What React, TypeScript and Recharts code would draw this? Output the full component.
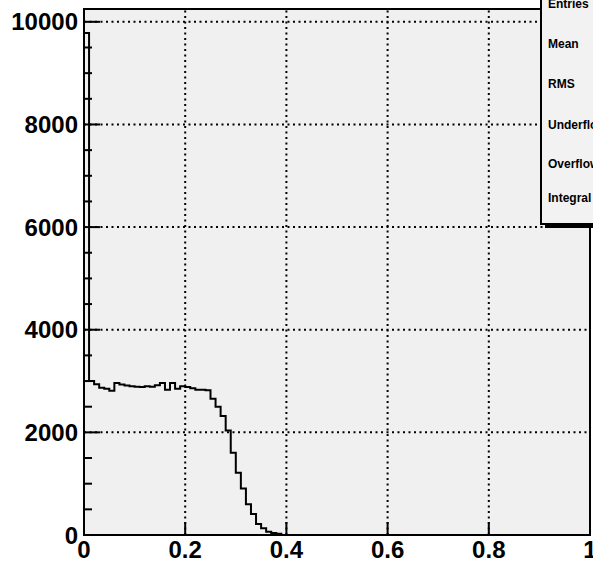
import React from "react"
import { ComposedChart, Line, XAxis, YAxis, ReferenceArea, ReferenceLine } from "recharts"

// bin contents, 100 bins of width 0.01 from 0 to 1
const counts = [
  9780, 3000, 2940, 2870, 2850, 2810, 2960, 2935, 2915, 2900,
  2890, 2885, 2900, 2890, 2920, 2960, 2830, 2960, 2850, 2900,
  2885, 2860, 2830, 2830, 2820, 2655, 2500, 2320, 2035, 1605,
  1215, 905, 600, 410, 215, 130, 65, 40, 25, 0,
  0, 0, 0, 0, 0, 0, 0, 0, 0, 0,
  0, 0, 0, 0, 0, 0, 0, 0, 0, 0,
  0, 0, 0, 0, 0, 0, 0, 0, 0, 0,
  0, 0, 0, 0, 0, 0, 0, 0, 0, 0,
  0, 0, 0, 0, 0, 0, 0, 0, 0, 0,
  0, 0, 0, 0, 0, 0, 0, 0, 0, 0,
]
const binWidth = 0.01

const xTicks = [0, 0.2, 0.4, 0.6, 0.8, 1]
const yMajor = [0, 2000, 4000, 6000, 8000, 10000]
const yTicks = [0, 500, 1000, 1500, 2000, 2500, 3000, 3500, 4000, 4500, 5000, 5500, 6000, 6500, 7000, 7500, 8000, 8500, 9000, 9500, 10000]
const statLabels = ["Entries", "Mean", "RMS", "Underflow", "Overflow", "Integral"]

const data = [
  { x: 0, y: 0 },
  ...counts.map((c, i) => ({ x: +(i * binWidth).toFixed(2), y: c })),
  { x: 1, y: 0 },
]

const font = "'Liberation Sans', Arial, Helvetica, sans-serif"

const YTick = (props: any) => {
  const { x, y, payload } = props
  const major = yMajor.includes(payload.value)
  return (
    <g>
      <line x1={x} y1={y} x2={x + (major ? 16 : 8)} y2={y} stroke="#000" strokeWidth={2} />
      {major && (
        <text x={x - 6} y={y} textAnchor="end" dominantBaseline="central" fontFamily={font} fontWeight="bold" fontSize={24} fill="#000">
          {payload.value}
        </text>
      )}
    </g>
  )
}

const XTick = (props: any) => {
  const { x, y, payload } = props
  return (
    <g>
      <line x1={x} y1={y} x2={x} y2={y - 13} stroke="#000" strokeWidth={2} />
      <text x={x} y={y + 14} textAnchor="middle" dominantBaseline="central" fontFamily={font} fontWeight="bold" fontSize={24} fill="#000">
        {payload.value}
      </text>
    </g>
  )
}

export default function App() {
  return (
    <div style={{ position: "absolute", left: 0, top: 0, width: 593, height: 562, overflow: "hidden", background: "#fff" }}>
      <ComposedChart width={593} height={562} data={data} margin={{ top: 9, right: 3, bottom: 0, left: 0 }}>
        <XAxis
          type="number"
          dataKey="x"
          domain={[0, 1]}
          ticks={xTicks}
          height={27}
          axisLine={false}
          tickLine={false}
          tickSize={0}
          tickMargin={0}
          tick={<XTick />}
          interval={0}
        />
        <YAxis
          type="number"
          domain={[0, 10250]}
          ticks={yTicks}
          width={84}
          axisLine={false}
          tickLine={false}
          tickSize={0}
          tickMargin={0}
          tick={<YTick />}
          interval={0}
        />
        <ReferenceArea x1={0} x2={1} y1={0} y2={10250} fill="#f0f0f0" fillOpacity={1} stroke="none" />
        {xTicks.slice(1, -1).map((t) => (
          <ReferenceLine key={"vx" + t} x={t} stroke="#000" strokeWidth={2} strokeDasharray="2 3.5" />
        ))}
        {yMajor.slice(1).map((t) => (
          <ReferenceLine key={"hy" + t} y={t} stroke="#000" strokeWidth={2} strokeDasharray="2 3.5" />
        ))}
        <Line
          type="stepAfter"
          dataKey="y"
          stroke="#000"
          strokeWidth={2}
          dot={false}
          activeDot={false}
          isAnimationActive={false}
        />
        <ReferenceArea x1={0} x2={1} y1={0} y2={10250} fill="none" stroke="#000" strokeWidth={2} />
      </ComposedChart>
      <div style={{ position: "absolute", left: 545, top: 223, width: 60, height: 5, background: "#000" }} />
      <div
        style={{
          position: "absolute",
          left: 540,
          top: -20,
          width: 60,
          height: 241,
          border: "2px solid #000",
          background: "#f2f2f2",
          overflow: "hidden",
        }}
      />
      {statLabels.map((s, i) => (
        <div
          key={s}
          style={{
            position: "absolute",
            left: 548,
            top: [4, 44, 84, 125, 164, 198][i] - 7,
            lineHeight: "14px",
            fontFamily: font,
            fontWeight: "bold",
            fontSize: 12,
            color: "#000",
            whiteSpace: "nowrap",
          }}
        >
          {s}
        </div>
      ))}
    </div>
  )
}
